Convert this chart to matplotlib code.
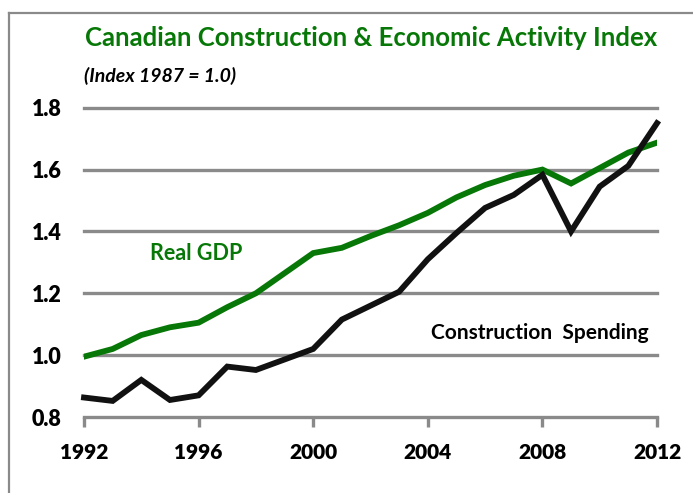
import matplotlib.pyplot as plt
from matplotlib.lines import Line2D

plt.rcParams["font.family"] = ["Lato", "DejaVu Sans"]
plt.rcParams["font.weight"] = "bold"

years = list(range(1992, 2013))
real_gdp = [0.995, 1.02, 1.065, 1.09, 1.105, 1.155, 1.20, 1.265, 1.33, 1.347,
            1.385, 1.42, 1.46, 1.51, 1.55, 1.58, 1.60, 1.555, 1.605, 1.655, 1.687]
construction = [0.863, 0.852, 0.92, 0.855, 0.87, 0.963, 0.952, 0.986, 1.02, 1.115,
                1.16, 1.205, 1.31, 1.395, 1.476, 1.518, 1.583, 1.40, 1.545, 1.612, 1.75]
x_ticks = [1992, 1996, 2000, 2004, 2008, 2012]
y_ticks = [0.8, 1.0, 1.2, 1.4, 1.6, 1.8]

GREEN = "#077807"
GRID = "#8a8a8a"

fig = plt.figure(figsize=(6.93, 4.93), dpi=100)

# outer frame: only the left and top edges are visible
fig.add_artist(Line2D([9 / 693, 9 / 693], [0, 1 - 12.5 / 493], color=GRID, lw=1.6,
                      transform=fig.transFigure))
fig.add_artist(Line2D([9 / 693, 1], [1 - 12.5 / 493, 1 - 12.5 / 493], color=GRID, lw=1.6,
                      transform=fig.transFigure))

ax = fig.add_axes([84 / 693, 76 / 493, (657 - 84) / 693, (417 - 107.7) / 493])
ax.set_xlim(1992, 2012)
ax.set_ylim(0.8, 1.8)

for y in y_ticks[1:]:
    ax.axhline(y, color=GRID, lw=2.4, zorder=1, clip_on=False)

ax.plot(years, real_gdp, color=GREEN, lw=4.2, solid_joinstyle="miter", zorder=3)
ax.plot(years, construction, color="#111111", lw=4.2, solid_joinstyle="miter", zorder=3,
        clip_on=False)

for s in ["left", "right", "top"]:
    ax.spines[s].set_visible(False)
ax.spines["bottom"].set_color(GRID)
ax.spines["bottom"].set_linewidth(2.4)

ax.set_xticks(x_ticks)
ax.set_xticklabels([str(x) for x in x_ticks], fontsize=15, fontweight="heavy")
ax.set_yticks(y_ticks)
ax.set_yticklabels([f"{y:.1f}" for y in y_ticks], fontsize=15.5, fontweight="heavy")
ax.tick_params(axis="x", direction="out", length=7, width=2.4, color=GRID, pad=12)
ax.tick_params(axis="y", length=0, pad=16)

ax.text(1994.3, 1.33, "Real GDP", color=GREEN, fontsize=15.5, fontweight="bold",
        ha="left", va="center")
ax.text(2011.7, 1.07, "Construction  Spending", color="black", fontsize=15,
        fontweight="bold", ha="right", va="center")

fig.text(85 / 693, 1 - 38 / 493, "Canadian Construction & Economic Activity Index",
         color=GREEN, fontsize=18.5, fontweight="bold", ha="left", va="center")
fig.text(84 / 693, 1 - 76 / 493, "(Index 1987 = 1.0)", color="black", fontsize=14,
         fontweight="bold", fontstyle="italic", ha="left", va="center")

fig.savefig("out.png", dpi=100)
